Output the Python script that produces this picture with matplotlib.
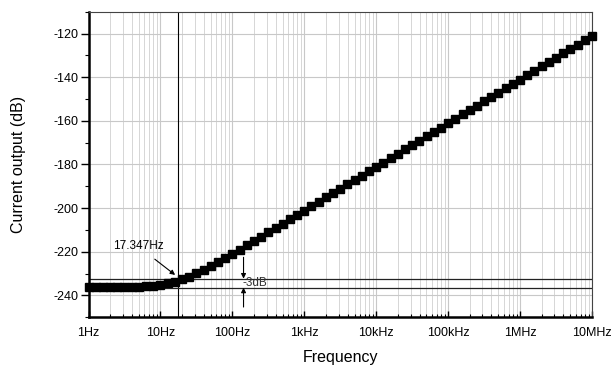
import matplotlib
matplotlib.use("Agg")
import matplotlib.pyplot as plt
from matplotlib.ticker import FixedLocator, LogLocator, NullFormatter, MultipleLocator

plt.rcParams['font.family'] = ['Liberation Sans', 'DejaVu Sans']
plt.rcParams['axes.unicode_minus'] = False

freq = [1.0, 1.259, 1.585, 1.995, 2.512, 3.162, 3.981, 5.012, 6.310, 7.943,
        10.0, 12.59, 15.85, 19.95, 25.12, 31.62, 39.81, 50.12, 63.10, 79.43,
        100.0, 125.9, 158.5, 199.5, 251.2, 316.2, 398.1, 501.2, 631.0, 794.3,
        1e3, 1.259e3, 1.585e3, 1.995e3, 2.512e3, 3.162e3, 3.981e3, 5.012e3, 6.310e3, 7.943e3,
        1e4, 1.259e4, 1.585e4, 1.995e4, 2.512e4, 3.162e4, 3.981e4, 5.012e4, 6.310e4, 7.943e4,
        1e5, 1.259e5, 1.585e5, 1.995e5, 2.512e5, 3.162e5, 3.981e5, 5.012e5, 6.310e5, 7.943e5,
        1e6, 1.259e6, 1.585e6, 1.995e6, 2.512e6, 3.162e6, 3.981e6, 5.012e6, 6.310e6, 7.943e6,
        1e7]
current_db = [-236.3, -236.3, -236.3, -236.2, -236.2, -236.2, -236.1, -236.0, -235.8, -235.5,
              -235.1, -234.5, -233.7, -232.6, -231.4, -229.9, -228.3, -226.6, -224.8, -222.9,
              -221.0, -219.0, -217.0, -215.1, -213.1, -211.1, -209.1, -207.1, -205.1, -203.1,
              -201.1, -199.1, -197.1, -195.1, -193.1, -191.1, -189.1, -187.1, -185.1, -183.1,
              -181.1, -179.1, -177.1, -175.1, -173.1, -171.1, -169.1, -167.1, -165.1, -163.1,
              -161.1, -159.1, -157.1, -155.1, -153.1, -151.1, -149.1, -147.1, -145.1, -143.1,
              -141.1, -139.1, -137.1, -135.1, -133.1, -131.1, -129.1, -127.1, -125.1, -123.1,
              -121.1]

xticks = [1, 10, 100, 1e3, 1e4, 1e5, 1e6, 1e7]
xticklabels = ['1Hz', '10Hz', '100Hz', '1kHz', '10kHz', '100kHz', '1MHz', '10MHz']
yticks = [-240, -220, -200, -180, -160, -140, -120]

f_cut = 17.347
level_low = -236.4
level_high = -232.3

fig = plt.figure(figsize=(6.13, 3.65), dpi=100)
ax = fig.add_axes([0.1444, 0.1307, 0.8213, 0.8373])

ax.set_xscale('log')
ax.set_xlim(1, 1e7)
ax.set_ylim(-250, -110)

ax.xaxis.set_major_locator(FixedLocator(xticks))
ax.set_xticklabels(xticklabels, fontsize=9)
ax.xaxis.set_minor_locator(LogLocator(base=10, subs=range(2, 10), numticks=20))
ax.xaxis.set_minor_formatter(NullFormatter())
ax.yaxis.set_major_locator(FixedLocator(yticks))
ax.yaxis.set_minor_locator(MultipleLocator(10))
ax.tick_params(axis='y', labelsize=9)

ax.grid(True, which='major', axis='both', color='#c8c8c8', linewidth=0.8, zorder=0)
ax.grid(True, which='minor', axis='x', color='#d6d6d6', linewidth=0.7, zorder=0)

ax.tick_params(axis='x', which='major', direction='in', length=4, width=1, top=False, pad=7)
ax.tick_params(axis='x', which='minor', direction='in', length=2.5, width=0.8, top=False)
ax.tick_params(axis='y', which='major', direction='out', length=6, width=1, right=False, pad=1)
ax.tick_params(axis='y', which='minor', direction='out', length=3, width=0.8, right=False)

ax.spines['left'].set_linewidth(1.8)
ax.spines['bottom'].set_linewidth(1.8)
ax.spines['top'].set_linewidth(0.8)
ax.spines['right'].set_linewidth(0.8)
ax.spines['top'].set_color('#444444')
ax.spines['right'].set_color('#444444')

ax.axvline(f_cut, color='black', linewidth=0.8, zorder=2)
ax.axhline(level_high, color='#222222', linewidth=0.9, zorder=2)
ax.axhline(level_low, color='#222222', linewidth=0.9, zorder=2)

ax.plot(freq, current_db, color='black', linewidth=1, marker='s', markersize=5.5,
        markerfacecolor='black', markeredgecolor='black', clip_on=False, zorder=3)

ax.annotate('17.347Hz', xy=(16.0, -230.6), xytext=(4.87, -217.4), fontsize=8.5,
            ha='center', va='center',
            arrowprops=dict(arrowstyle='-|>', color='black', lw=0.8,
                            mutation_scale=7, shrinkA=5, shrinkB=0))
ax.annotate('', xy=(143, level_high), xytext=(143, -222.5),
            arrowprops=dict(arrowstyle='-|>', color='black', lw=0.8,
                            mutation_scale=7, shrinkA=0, shrinkB=0))
ax.annotate('', xy=(143, level_low), xytext=(143, -245.3),
            arrowprops=dict(arrowstyle='-|>', color='black', lw=0.8,
                            mutation_scale=7, shrinkA=0, shrinkB=0))
ax.text(138, -234.3, '-3dB', fontsize=8.5, ha='left', va='center', color='#333333')

ax.set_xlabel('Frequency', fontsize=11.5)
ax.set_ylabel('Current output (dB)', fontsize=11.5)
ax.xaxis.set_label_coords(0.5, -0.13)
ax.xaxis.label.set_va('center')
ax.yaxis.set_label_coords(-0.14, 0.5)
ax.yaxis.label.set_va('center')

fig.savefig('out.png', dpi=100)
